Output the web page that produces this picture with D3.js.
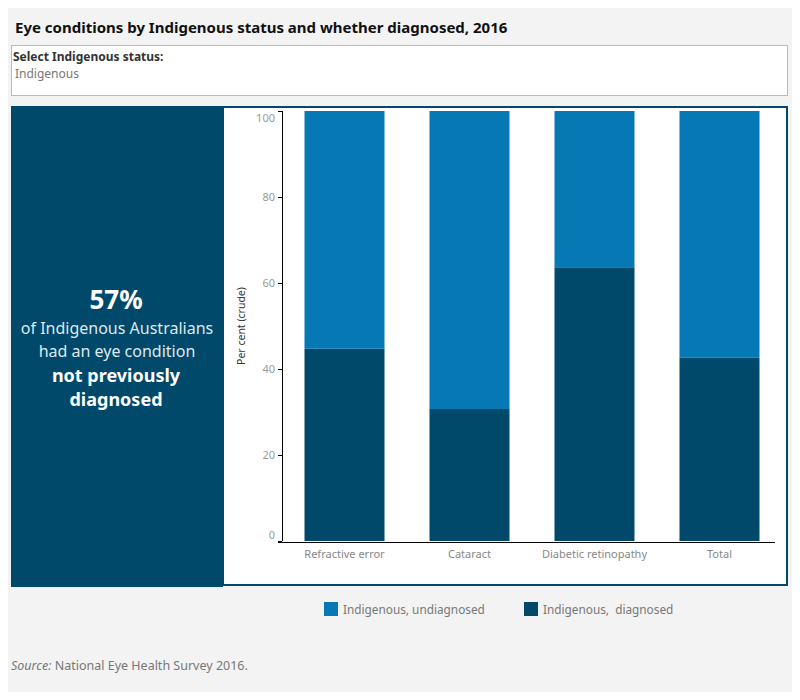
<!DOCTYPE html>
<html>
<head>
<meta charset="utf-8">
<script src="https://cdn.jsdelivr.net/npm/d3@7"></script>
<style>
  body { margin: 0; background: #fff; font-family: "Noto Sans", sans-serif; }
</style>
</head>
<body>
<div id="chart"></div>
<script>
// data
const categories = ["Refractive error", "Cataract", "Diabetic retinopathy", "Total"];
const diagnosed = [44.7, 30.7, 63.5, 42.6];
const undiagnosed = [55.3, 69.3, 36.5, 57.4];
const seriesNames = ["Indigenous, undiagnosed", "Indigenous,  diagnosed"];
const yTicks = [0, 20, 40, 60, 80, 100];

const colUndiag = "#0679b5", colDiag = "#00496b";

const svg = d3.select("#chart").append("svg")
    .attr("width", 800).attr("height", 700);

// background
svg.append("rect").attr("x", 8).attr("y", 8).attr("width", 784).attr("height", 684).attr("fill", "#f3f3f3");

svg.append("text").attr("x", 15).attr("y", 33)
    .attr("font-size", 15).attr("font-weight", "bold").attr("fill", "#111")
    .text("Eye conditions by Indigenous status and whether diagnosed, 2016");

// filter box
svg.append("rect").attr("x", 11.5).attr("y", 45.5).attr("width", 776).attr("height", 50)
    .attr("fill", "#fff").attr("stroke", "#bbb");
svg.append("text").attr("x", 13).attr("y", 61).attr("font-size", 12).attr("font-weight", "bold").attr("fill", "#333")
    .text("Select Indigenous status:");
svg.append("text").attr("x", 15).attr("y", 78).attr("font-size", 12).attr("fill", "#777")
    .text("Indigenous");

// left panel
svg.append("rect").attr("x", 11).attr("y", 106).attr("width", 212).attr("height", 481).attr("fill", colDiag);
const lp = svg.append("g").attr("fill", "#fff").attr("text-anchor", "middle");
lp.append("text").attr("x", 116).attr("y", 309).attr("font-size", 26).attr("font-weight", "bold").text("57%");
lp.append("text").attr("x", 117).attr("y", 334).attr("font-size", 16).attr("fill", "#dfe8ee").text("of Indigenous Australians");
lp.append("text").attr("x", 117).attr("y", 357).attr("font-size", 16).attr("fill", "#dfe8ee").text("had an eye condition");
lp.append("text").attr("x", 116).attr("y", 382).attr("font-size", 18).attr("font-weight", "bold").text("not previously");
lp.append("text").attr("x", 116).attr("y", 406).attr("font-size", 18).attr("font-weight", "bold").text("diagnosed");

// chart panel
svg.append("rect").attr("x", 223).attr("y", 107).attr("width", 564).attr("height", 478)
    .attr("fill", "#fff").attr("stroke", colDiag).attr("stroke-width", 2);

const x = d3.scaleBand().domain(categories).range([282, 782]).paddingInner(0.36).paddingOuter(0.18);
const y = d3.scaleLinear().domain([0, 100]).range([541, 111]);

const rows = categories.map((c, i) => ({ cat: c, diagnosed: diagnosed[i], undiagnosed: undiagnosed[i] }));
const stack = d3.stack().keys(["diagnosed", "undiagnosed"])(rows);
const z = d3.scaleOrdinal().domain(["diagnosed", "undiagnosed"]).range([colDiag, colUndiag]);

svg.append("g").selectAll("g").data(stack).enter().append("g")
    .attr("fill", d => z(d.key))
  .selectAll("rect").data(d => d).enter().append("rect")
    .attr("x", d => x(d.data.cat))
    .attr("y", d => y(d[1]))
    .attr("width", x.bandwidth())
    .attr("height", d => y(d[0]) - y(d[1]));

// y axis
const yAxis = svg.append("g").attr("transform", "translate(282,0)")
    .call(d3.axisLeft(y).tickValues(yTicks).tickSize(4).tickPadding(3));
yAxis.select(".domain").attr("stroke", "#000").attr("d", "M0.5,111V541");
yAxis.selectAll(".tick line").attr("stroke", "#000");
yAxis.selectAll(".tick text").attr("fill", "#9a9a9a").attr("font-size", 11).attr("font-family", "Noto Sans")
    .attr("y", d => d === 100 ? 7 : d === 0 ? -6 : 0);

svg.append("text").attr("transform", "translate(245,326) rotate(-90)")
    .attr("text-anchor", "middle").attr("font-size", 10.5).attr("fill", "#333").text("Per cent (crude)");

// x axis
const xAxis = svg.append("g").attr("transform", "translate(0,542)")
    .call(d3.axisBottom(x).tickSize(0).tickPadding(8));
xAxis.select(".domain").attr("stroke", "#000").attr("d", "M278,0.5H775");
xAxis.selectAll(".tick text").attr("fill", "#888").attr("font-size", 11).attr("font-family", "Noto Sans");

// legend
const legend = svg.append("g").selectAll("g").data(seriesNames).enter().append("g")
    .attr("transform", (d, i) => `translate(${324 + i * 200},602)`);
legend.append("rect").attr("width", 14).attr("height", 14).attr("fill", (d, i) => i === 0 ? colUndiag : colDiag);
legend.append("text").attr("x", 19).attr("y", 11.5).attr("font-size", 11.8).attr("fill", "#777")
    .attr("xml:space", "preserve").style("white-space", "pre").text(d => d);

// source
const src = svg.append("text").attr("x", 11).attr("y", 670).attr("font-size", 12.5).attr("fill", "#777");
src.append("tspan").attr("font-style", "italic").text("Source:");
src.append("tspan").text(" National Eye Health Survey 2016.");
</script>
</body>
</html>
